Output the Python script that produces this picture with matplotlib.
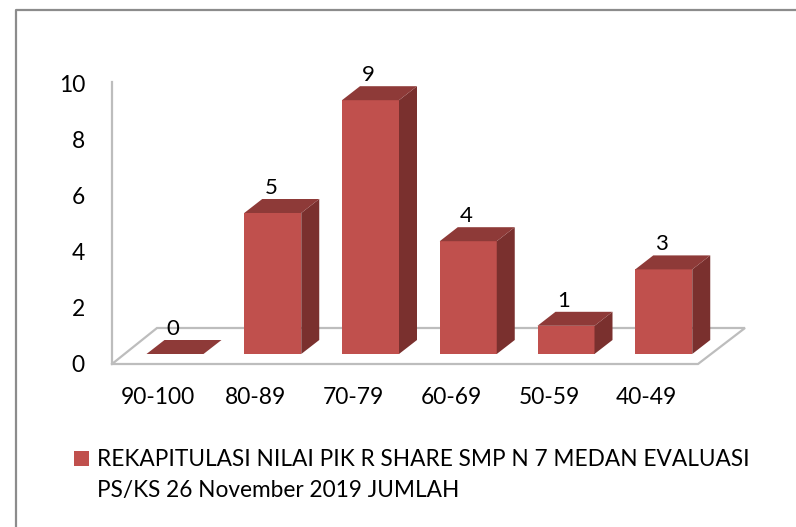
import matplotlib.pyplot as plt
from matplotlib.patches import Polygon, Rectangle

# --- DATA ---

categories = ['90-100', '80-89', '70-79', '60-69', '50-59', '40-49']
values = [0, 5, 9, 4, 1, 3]
y_ticks = [0, 2, 4, 6, 8, 10]
legend_lines = ['REKAPITULASI NILAI PIK R SHARE SMP N 7 MEDAN EVALUASI',
                'PS/KS 26 November 2019 JUMLAH']

# --- SETUP ---

W, H = 796, 527
X0, X_STEP = 175, 97.75   # pixel centre of first bar, pixels per category
Y0, Y_STEP = 354, 28.2    # pixel of value 0 at bar front, pixels per unit

FRONT = '#C0504D'
TOP = '#8E3A38'
SIDE = '#7A302E'
WALL = '#BDBDBD'
FRAME = '#8C8C8C'

plt.rcParams['font.family'] = ['Lato', 'DejaVu Sans']


def px(x):
    return (x - X0) / X_STEP


def py(y):
    return (Y0 - y) / Y_STEP


fig = plt.figure(figsize=(W / 100, H / 100), dpi=100)
ax = fig.add_axes([0, 0, 1, 1])
ax.set_xlim(px(0), px(W))
ax.set_ylim(py(H), py(0))
ax.axis('off')

# --- FRAME, WALL, FLOOR ---

ax.plot([px(16), px(16), px(W)], [py(H), py(10), py(10)], color=FRAME, lw=1.6)
ax.plot([px(112), px(112), px(698), px(745), px(157), px(112)],
        [py(82), py(364), py(364), py(328), py(328), py(364)],
        color=WALL, lw=1.6, solid_joinstyle='miter', zorder=1)

# --- BARS ---

bar_w = 57 / X_STEP
dx = 18 / X_STEP
dy = 14 / Y_STEP

for i, v in enumerate(values):
    left = i - bar_w / 2
    right = i + bar_w / 2
    ax.bar(i, v, width=bar_w, color=FRONT, zorder=3)
    ax.add_patch(Polygon([(right, 0), (right + dx, dy), (right + dx, v + dy), (right, v)],
                         color=SIDE, lw=0, zorder=3))
    ax.add_patch(Polygon([(left, v), (left + dx, v + dy), (right + dx, v + dy), (right, v)],
                         color=TOP, lw=0, zorder=3))
    ax.text(i - 2 / X_STEP, v + dy + 1 / Y_STEP, str(v), ha='center', va='bottom',
            fontsize=16, color='black', zorder=4)

# --- LABELS ---

for i, c in enumerate(categories):
    ax.text(i - 17 / X_STEP, py(398), c, ha='center', va='center', fontsize=16.4, color='black')

for t in y_ticks:
    ax.text(px(85), py(365 - t * 28), str(t), ha='right', va='center', fontsize=16.4, color='black')

# --- LEGEND ---

ax.add_patch(Rectangle((px(74), py(466)), 15 / X_STEP, 15 / Y_STEP, color=FRONT, lw=0))
ax.text(px(97), py(459), legend_lines[0], ha='left', va='center', fontsize=16.3, color='black')
ax.text(px(97), py(491), legend_lines[1], ha='left', va='center', fontsize=16.3, color='black')

fig.savefig('out.png', dpi=100)
plt.close(fig)
